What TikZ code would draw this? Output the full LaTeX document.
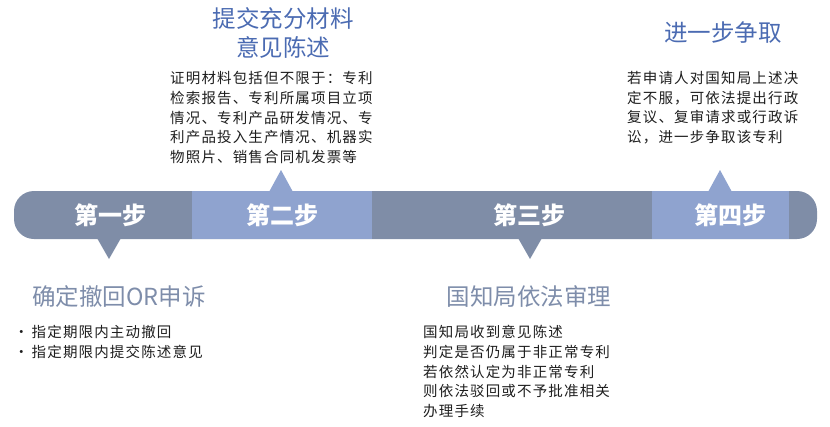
\documentclass[tikz,border=0pt]{standalone}
\usepackage{fontspec}
\setmainfont{Noto Sans CJK SC}
\newfontfamily\cjk{Noto Sans CJK SC}
\newfontfamily\cjkbody[LetterSpace=8]{Noto Sans CJK SC}
\definecolor{stepdark}{HTML}{7F8DA7}
\definecolor{steplight}{HTML}{8FA3CF}
\definecolor{headblue}{HTML}{4B6BB2}
\definecolor{headgray}{HTML}{7E8DAA}
\definecolor{bodytext}{HTML}{1E1E1E}
\begin{document}
\begin{tikzpicture}[x=1pt,y=-1pt,
    dark/.style={fill=stepdark},
    light/.style={fill=steplight},
    steplabel/.style={text=white,font=\cjk\bfseries\fontsize{24}{24}\selectfont},
    headline/.style={text=headblue,align=center,font=\cjk\fontsize{23.5}{29}\selectfont},
    lowhead/.style={text=headgray,font=\cjk\fontsize{23.5}{29}\selectfont},
    body/.style={anchor=north west,inner sep=0pt,align=left,text=bodytext,
        font=\cjkbody\fontsize{14.5}{19.8}\selectfont}]
    \useasboundingbox (0,0) rectangle (830,426);
    % band
    \fill[dark,rounded corners=20pt] (14,191) rectangle (817,239);
    \fill[light] (192,191) rectangle (372,239);
    \fill[light] (652,191) rectangle (789,239);
    % pointers
    \fill[dark] (97,238) -- (109,259) -- (121,238) -- cycle;
    \fill[light] (269,192) -- (281,170) -- (293,192) -- cycle;
    \fill[dark] (518,238) -- (530,259) -- (542,238) -- cycle;
    \fill[light] (708,192) -- (720,170) -- (732,192) -- cycle;
    % steps
    \node[steplabel] (s1) at (110,215) {第一步};
    \node[steplabel] (s2) at (282,215) {第二步};
    \node[steplabel] (s3) at (529,215) {第三步};
    \node[steplabel] (s4) at (730,215) {第四步};
    % above
    \node[headline] (t2) at (283,32.5) {提交充分材料\\意见陈述};
    \node[headline] (t4) at (723,33) {进一步争取};
    \node[body] (b2) at (170,71) {证明材料包括但不限于：专利\\检索报告、专利所属项目立项\\情况、专利产品研发情况、专\\利产品投入生产情况、机器实\\物照片、销售合同机发票等};
    \node[body] (b4) at (627,71) {若申请人对国知局上述决\\定不服，可依法提出行政\\复议、复审请求或行政诉\\讼，进一步争取该专利};
    % below
    \node[lowhead] (t1) at (119,297) {确定撤回OR申诉};
    \node[lowhead] (t3) at (529,297) {国知局依法审理};
    \node[body] (b1) at (14,325) {·\hspace{3pt}指定期限内主动撤回\\·\hspace{3pt}指定期限内提交陈述意见};
    \node[body] (b3) at (423,325) {国知局收到意见陈述\\判定是否仍属于非正常专利\\若依然认定为非正常专利\\则依法驳回或不予批准相关\\办理手续};
\end{tikzpicture}
\end{document}
